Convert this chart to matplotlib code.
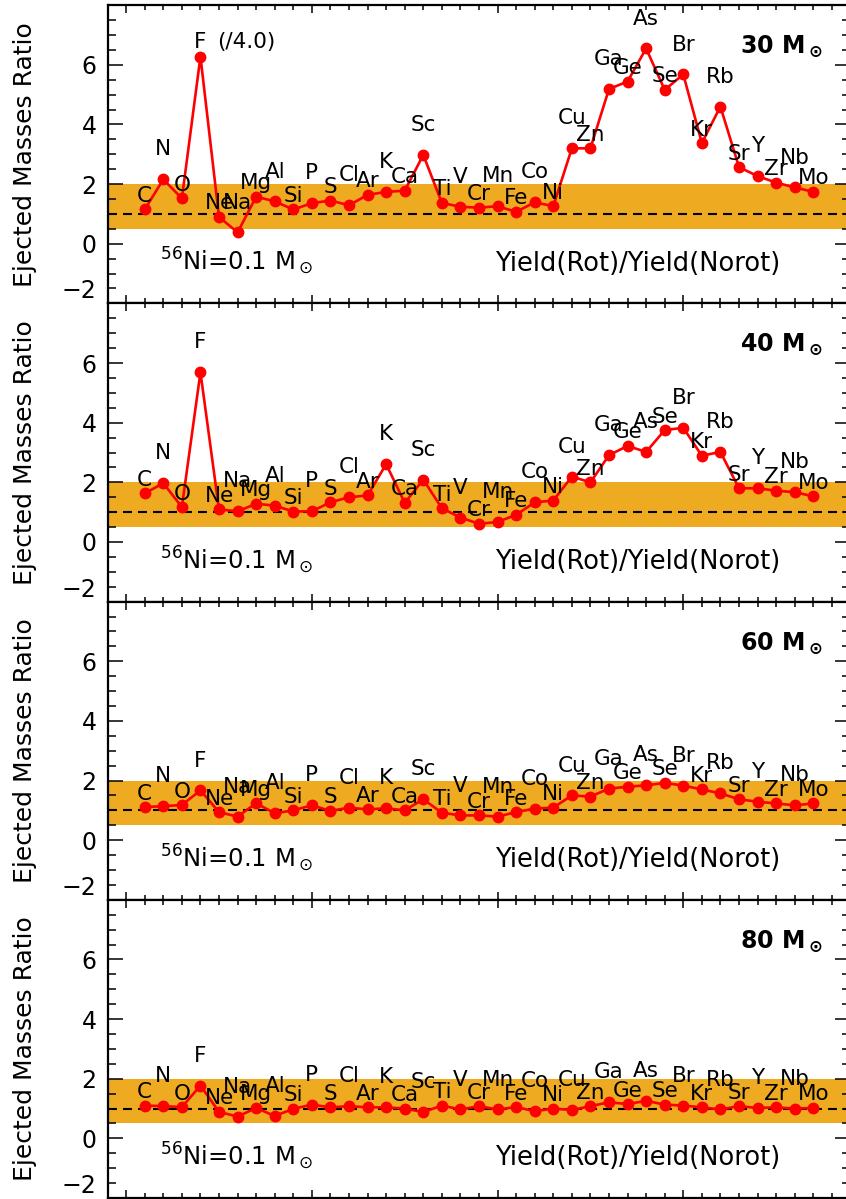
import numpy as np
import matplotlib
matplotlib.use("Agg")
import matplotlib.pyplot as plt
from matplotlib.ticker import MultipleLocator

plt.rcParams['font.family'] = 'DejaVu Sans'
plt.rcParams['mathtext.default'] = 'regular'

# elements C..Mo and their atomic numbers
elements = ['C', 'N', 'O', 'F', 'Ne', 'Na', 'Mg', 'Al', 'Si', 'P', 'S', 'Cl', 'Ar',
            'K', 'Ca', 'Sc', 'Ti', 'V', 'Cr', 'Mn', 'Fe', 'Co', 'Ni', 'Cu', 'Zn',
            'Ga', 'Ge', 'As', 'Se', 'Br', 'Kr', 'Rb', 'Sr', 'Y', 'Zr', 'Nb', 'Mo']
zz = np.arange(6, 6 + len(elements))

masses = [30, 40, 60, 80]

# Yield(Rot)/Yield(Norot) ratios
r30 = [1.15, 2.16, 1.52, 25.1, 0.90, 0.38, 1.58, 1.42, 1.15, 1.36, 1.45, 1.29, 1.64,
       1.74, 1.78, 2.98, 1.37, 1.24, 1.21, 1.26, 1.07, 1.39, 1.26, 3.20, 3.20,
       5.19, 5.44, 6.55, 5.16, 5.68, 3.38, 4.60, 2.57, 2.27, 2.05, 1.89, 1.74]
r40 = [1.63, 1.97, 1.17, 5.69, 1.09, 1.03, 1.28, 1.22, 1.02, 1.03, 1.33, 1.50, 1.56,
       2.61, 1.31, 2.09, 1.13, 0.82, 0.61, 0.67, 0.91, 1.33, 1.39, 2.19, 2.00,
       2.91, 3.22, 3.02, 3.75, 3.83, 2.89, 3.02, 1.80, 1.80, 1.72, 1.67, 1.53]
r60 = [1.11, 1.14, 1.18, 1.67, 0.94, 0.79, 1.24, 0.90, 1.00, 1.17, 0.98, 1.09, 1.03,
       1.07, 1.00, 1.37, 0.92, 0.83, 0.83, 0.79, 0.94, 1.06, 1.09, 1.50, 1.46,
       1.73, 1.79, 1.84, 1.92, 1.83, 1.70, 1.57, 1.37, 1.29, 1.23, 1.17, 1.23]
r80 = [1.10, 1.08, 1.05, 1.77, 0.89, 0.73, 1.02, 0.75, 0.99, 1.13, 1.04, 1.08, 1.04,
       1.04, 1.00, 0.88, 1.10, 0.97, 1.08, 0.97, 1.05, 0.91, 1.00, 0.95, 1.08,
       1.21, 1.15, 1.26, 1.13, 1.10, 1.04, 0.97, 1.08, 1.02, 1.04, 1.00, 1.02]
ratios = [r30, r40, r60, r80]

# F in the 30 Msun model is plotted divided by 4
f_scale = {30: 4.0}

band = (0.5, 2.0)
ytick_vals = [-2, 0, 2, 4, 6]

W, H = 846, 1199
fig = plt.figure(figsize=(W / 100, H / 100), dpi=100)

x0_px, x1_px = 107.6, 850.4
pitch = 298.2
bottom_px = 1198.0

for i, (m, r) in enumerate(zip(masses, ratios)):
    top = bottom_px - (4 - i) * pitch
    ax = fig.add_axes([x0_px / W, 1 - (top + pitch) / H, (x1_px - x0_px) / W, pitch / H])

    vals = np.array(r, dtype=float)
    if m in f_scale:
        vals[elements.index('F')] /= f_scale[m]

    ax.axhspan(band[0], band[1], color='#EEAB22', lw=0, zorder=0)
    ax.axhline(1.0, color='k', lw=1.5, ls=(0, (4.3, 2.9)), zorder=1)
    ax.plot(zz, vals, '-o', color='red', lw=1.9, ms=7.5, zorder=3)

    # element names: even Z a bit above the point, odd Z higher
    for z, name, v in zip(zz, elements, vals):
        off = 0.25 if z % 2 == 0 else 0.8
        if name == 'F' and m in f_scale:
            off = 0.3
            ax.text(z + 0.9, v + off, '(/%.1f)' % f_scale[m], ha='left',
                    va='baseline', fontsize=15.5, zorder=4)
        ax.text(z, v + off, name, ha='center', va='baseline', fontsize=15.5, zorder=4)

    ax.text(42.47, 6.4, r'%d M$_\odot$' % m, ha='right', va='baseline',
            fontsize=17, fontweight='bold')
    ax.text(6.8, -0.9, r'$^{56}$Ni=0.1 M$_\odot$', ha='left', va='baseline', fontsize=17.5)
    ax.text(24.86, -0.9, 'Yield(Rot)/Yield(Norot)', ha='left', va='baseline', fontsize=18.5)

    ax.set_xlim(4, 44)
    ax.set_ylim(-2, 8)
    ax.set_xticks([5, 15, 25, 35])
    ax.xaxis.set_minor_locator(MultipleLocator(1))
    ax.set_yticks(ytick_vals)
    ax.set_yticklabels([str(v).replace('-', '\u2212') for v in ytick_vals])
    ax.yaxis.set_minor_locator(MultipleLocator(0.5))
    ax.tick_params(which='both', direction='in', top=True, right=True,
                   labelbottom=False, width=1.1)
    ax.tick_params(axis='y', which='major', length=11, labelsize=17, pad=8)
    ax.tick_params(axis='y', which='minor', length=6)
    ax.tick_params(axis='x', which='major', length=6)
    ax.tick_params(axis='x', which='minor', length=3.5)
    ax.get_yticklabels()[0].set_va('bottom')
    for sp in ax.spines.values():
        sp.set_linewidth(1.6)

    fig.text(25 / W, 1 - (top + pitch / 2) / H, 'Ejected Masses Ratio', rotation=90,
             ha='center', va='center', fontsize=18)

fig.savefig('out.png', dpi=100)
